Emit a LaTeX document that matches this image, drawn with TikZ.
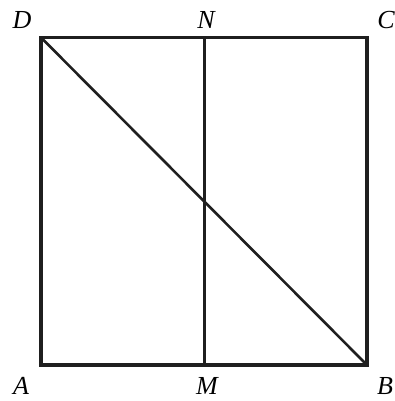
\documentclass[tikz,border=0pt]{standalone}
\usepackage{fontspec}
\setmainfont{Liberation Serif}
\begin{document}
\begin{tikzpicture}[x=1pt,y=1pt,
  lbl/.style={font=\fontsize{26}{28}\selectfont\itshape, inner sep=0pt},
  outer/.style={line width=3.6pt, line join=miter, color=black!88},
  inner/.style={line width=2.6pt, color=black!88}]
\useasboundingbox (0,0) rectangle (395,401);
\coordinate (A) at (41,36);
\coordinate (B) at (367,36);
\coordinate (C) at (367,363.5);
\coordinate (D) at (41,363.5);
\coordinate (M) at (204.5,36);
\coordinate (N) at (204.5,363.5);
\draw[inner] (D) -- (B);
\draw[inner] (N) -- (M);
\draw[outer] (A) -- (B) -- (C) -- (D) -- cycle;
\node[lbl] (lD) at (22,381) {D};
\node[lbl] (lN) at (206,381) {N};
\node[lbl] (lC) at (386,381) {C};
\node[lbl] (lA) at (21,15) {A};
\node[lbl] (lM) at (207,15) {M};
\node[lbl] (lB) at (385,15) {B};
\end{tikzpicture}
\end{document}
